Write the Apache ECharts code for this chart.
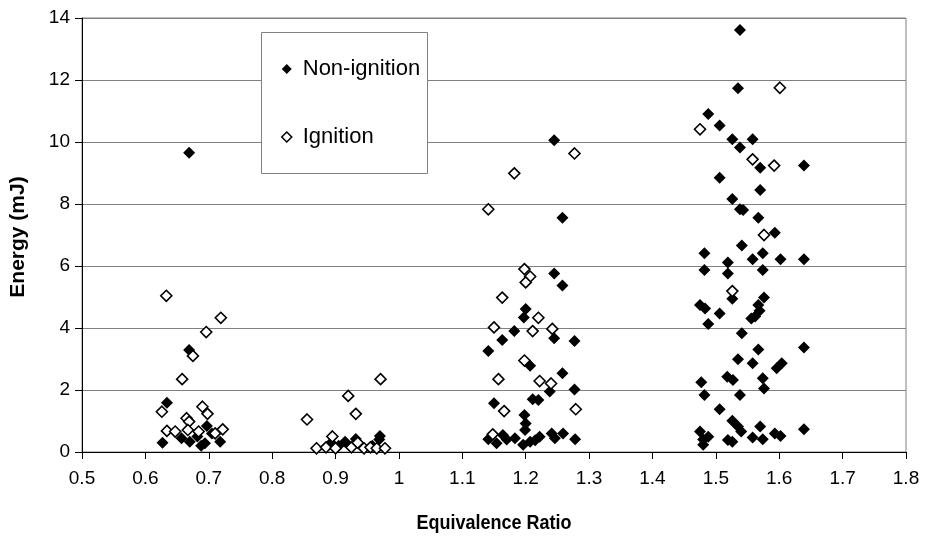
<!DOCTYPE html>
<html>
<head>
<meta charset="utf-8">
<script src="https://cdn.jsdelivr.net/npm/echarts@6/dist/echarts.min.js"></script>
<style>
html,body{margin:0;padding:0;background:#fff;}
#chart{width:926px;height:558px;}
</style>
</head>
<body>
<div id="chart"></div>
<script>
// Tick labels / axis ranges
var xTicks = [0.5,0.6,0.7,0.8,0.9,1.0,1.1,1.2,1.3,1.4,1.5,1.6,1.7,1.8];
var yTicks = [0,2,4,6,8,10,12,14];
var seriesNames = ['Non-ignition','Ignition'];

// Non-ignition (filled diamonds): [equivalence ratio, energy mJ]
var nonIgnition = [
  [0.669,9.65],[0.669,3.29],[0.634,1.59],[0.697,0.84],[0.627,0.30],[0.657,0.44],[0.670,0.33],
  [0.694,0.28],[0.718,0.33],[0.682,0.50],[0.688,0.20],[0.705,0.60],
  [0.893,0.30],[0.905,0.20],[0.915,0.33],[0.932,0.42],[0.940,0.20],[0.958,0.20],[0.970,0.52],[0.969,0.40],
  [1.245,10.06],[1.258,7.56],[1.245,5.76],[1.258,5.37],[1.200,4.61],[1.197,4.34],[1.182,3.90],
  [1.163,3.61],[1.245,3.67],[1.277,3.58],[1.141,3.26],[1.207,2.78],[1.258,2.54],[1.238,1.95],
  [1.277,2.02],[1.211,1.70],[1.220,1.68],[1.150,1.57],[1.198,1.19],[1.200,0.92],[1.199,0.71],
  [1.141,0.41],[1.154,0.28],[1.164,0.55],[1.183,0.44],[1.196,0.23],[1.207,0.33],[1.222,0.49],
  [1.241,0.60],[1.246,0.44],[1.259,0.60],[1.278,0.41],[1.170,0.40],[1.215,0.38],
  [1.538,13.61],[1.535,11.73],[1.488,10.90],[1.506,10.53],[1.526,10.09],[1.558,10.09],[1.538,9.82],
  [1.570,9.17],[1.639,9.24],[1.506,8.85],[1.570,8.45],[1.526,8.16],[1.538,7.83],[1.543,7.81],
  [1.567,7.56],[1.593,7.07],[1.541,6.66],[1.482,6.41],[1.574,6.41],[1.519,6.11],[1.558,6.22],
  [1.602,6.22],[1.639,6.22],[1.482,5.87],[1.519,5.76],[1.574,5.87],[1.526,4.94],[1.576,4.98],
  [1.475,4.74],[1.483,4.63],[1.567,4.74],[1.506,4.47],[1.569,4.56],[1.562,4.37],[1.556,4.31],
  [1.488,4.13],[1.541,3.83],[1.639,3.37],[1.567,3.31],[1.535,2.99],[1.558,2.86],[1.596,2.70],
  [1.604,2.86],[1.518,2.43],[1.527,2.32],[1.574,2.38],[1.576,2.05],[1.477,2.25],[1.482,1.84],
  [1.538,1.84],[1.506,1.38],[1.526,1.01],[1.535,0.82],[1.540,0.66],[1.570,0.82],[1.639,0.73],
  [1.475,0.66],[1.488,0.49],[1.480,0.23],[1.519,0.39],[1.526,0.33],[1.558,0.47],[1.574,0.41],
  [1.593,0.60],[1.602,0.52],[1.480,0.40]
];

// Ignition (hollow diamonds)
var ignition = [
  [0.633,5.04],[0.719,4.33],[0.696,3.87],[0.675,3.10],[0.658,2.35],[0.626,1.30],[0.690,1.46],
  [0.698,1.23],[0.665,1.09],[0.669,0.98],[0.634,0.68],[0.647,0.66],[0.667,0.71],[0.684,0.66],
  [0.710,0.60],[0.722,0.73],
  [0.855,1.05],[0.870,0.12],[0.885,0.15],[0.895,0.50],[0.900,0.12],[0.920,1.81],[0.925,0.15],
  [0.932,1.23],[0.935,0.30],[0.945,0.12],[0.955,0.15],[0.965,0.12],[0.971,2.35],[0.978,0.12],
  [1.277,9.63],[1.182,8.99],[1.141,7.83],[1.198,5.90],[1.207,5.66],[1.200,5.47],[1.163,4.98],
  [1.220,4.33],[1.150,4.02],[1.211,3.90],[1.242,3.97],[1.198,2.95],[1.157,2.35],[1.222,2.29],
  [1.240,2.21],[1.166,1.32],[1.279,1.38],[1.148,0.57],
  [1.601,11.75],[1.475,10.41],[1.558,9.44],[1.592,9.24],[1.576,7.00],[1.526,5.19]
];

var FONT = 'Liberation Sans, Arial, Helvetica, sans-serif';
var chart = echarts.init(document.getElementById('chart'), null, {renderer:'canvas'});
chart.setOption({
  animation: false,
  backgroundColor: '#ffffff',
  grid: {left: 82, right: 20, top: 18, bottom: 106, show: true, borderColor: '#808080', borderWidth: 1, backgroundColor: 'transparent'},
  xAxis: {
    type: 'value', min: xTicks[0], max: xTicks[xTicks.length-1], interval: 0.1,
    axisLine: {show: true, onZero: false, lineStyle: {color: '#000', width: 1}},
    axisTick: {show: true, inside: false, length: 7, lineStyle: {color: '#000'}},
    axisLabel: {fontFamily: FONT, fontSize: 19, color: '#000', margin: 17,
      formatter: function(v){ return String(parseFloat(v.toFixed(1))); }},
    splitLine: {show: false}
  },
  yAxis: {
    type: 'value', min: yTicks[0], max: yTicks[yTicks.length-1], interval: 2,
    axisLine: {show: true, lineStyle: {color: '#000', width: 1}},
    axisTick: {show: true, inside: false, length: 7, lineStyle: {color: '#000'}},
    axisLabel: {fontFamily: FONT, fontSize: 19, color: '#000', margin: 12},
    splitLine: {show: true, lineStyle: {color: '#808080', width: 1}}
  },
  legend: {
    show: true, orient: 'vertical', left: 281, top: 58,
    itemWidth: 10, itemHeight: 10, itemGap: 46,
    backgroundColor: 'transparent', borderWidth: 0, padding: 0,
    textStyle: {fontFamily: FONT, fontSize: 22, lineHeight: 22, color: '#000', padding: [0,0,0,6]},
    data: [
      {name: seriesNames[0], icon: 'diamond', itemStyle: {color: '#000', borderWidth: 0}},
      {name: seriesNames[1], icon: 'diamond', itemStyle: {color: '#fff', borderColor: '#000', borderWidth: 1.5}}
    ]
  },
  graphic: [
    {type: 'rect', z: 3, shape: {x: 261.5, y: 32.5, width: 166, height: 141},
     style: {fill: '#fff', stroke: '#808080', lineWidth: 1}},
    {type: 'text', z: 5, x: 18, y: 237, rotation: Math.PI/2,
     style: {text: 'Energy (mJ)', font: 'bold 21px ' + FONT, fill: '#000', textAlign: 'center', textVerticalAlign: 'middle'}},
    {type: 'text', z: 5, x: 494, y: 523, scaleX: 0.9,
     style: {text: 'Equivalence Ratio', font: 'bold 20px ' + FONT, fill: '#000', textAlign: 'center', textVerticalAlign: 'middle'}}
  ],
  series: [
    {name: seriesNames[0], type: 'scatter', data: nonIgnition, symbol: 'diamond', symbolSize: 12, z: 2,
     itemStyle: {color: '#000', opacity: 1}},
    {name: seriesNames[1], type: 'scatter', data: ignition, symbol: 'diamond', symbolSize: 11, z: 3,
     itemStyle: {color: '#fff', borderColor: '#000', borderWidth: 1.6, opacity: 1}}
  ]
});
</script>
</body>
</html>
